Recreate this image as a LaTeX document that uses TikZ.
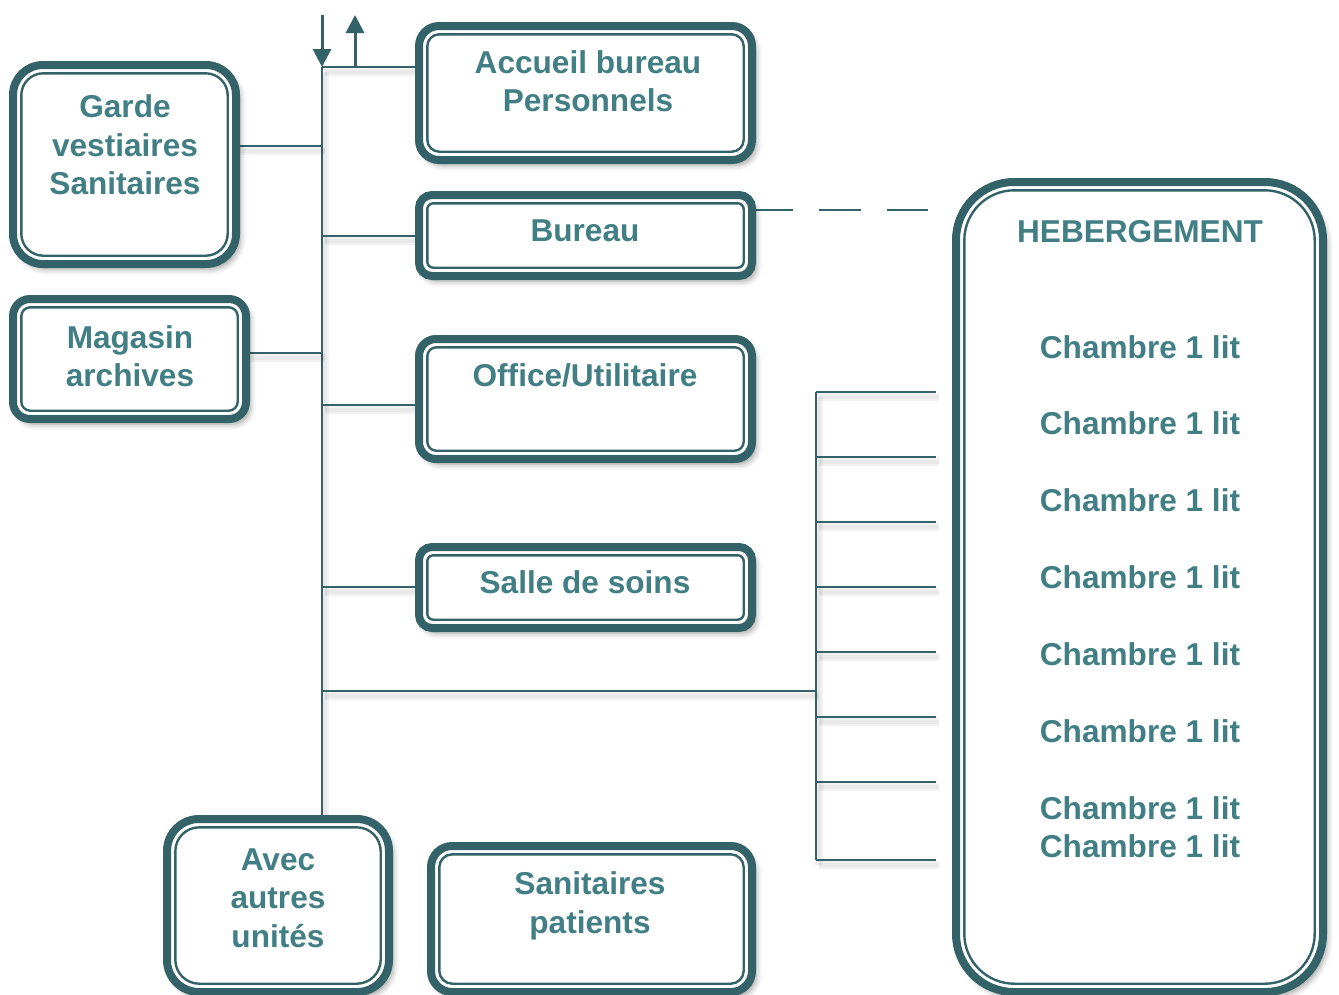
\documentclass[tikz,border=0pt]{standalone}
\usepackage{fontspec}
\setmainfont{Liberation Sans}
\usetikzlibrary{arrows.meta,shadows.blur,backgrounds}

\definecolor{tealdark}{RGB}{51,99,104}
\definecolor{tealtext}{RGB}{66,127,133}

\tikzset{
  room/.style={draw=tealdark, fill=white, line width=8pt, inner sep=0pt,
    outer sep=0pt,
    blur shadow={shadow xshift=4pt, shadow yshift=-5pt,
                 shadow blur radius=6pt, shadow opacity=40}},
  innerline/.style={draw=tealdark, line width=2.4pt},
  lbl/.style={font=\bfseries\fontsize{31.6}{38.5}\selectfont, text=tealtext,
    align=center, inner sep=0pt},
  oneline/.style={lbl, text depth=0pt},
  conn/.style={draw=tealdark, line width=2.4pt,
    preaction={draw=black, opacity=0.05, line width=8pt,
               transform canvas={xshift=3pt, yshift=-5pt}},
    preaction={draw=black, opacity=0.04, line width=4pt,
               transform canvas={xshift=3pt, yshift=-5pt}}},
  flow/.style={draw=tealdark, line width=3pt,
    -{Triangle[length=18pt, width=18pt]}},
  dashconn/.style={draw=tealdark, line width=2.4pt,
    dash pattern=on 42pt off 26pt},
}

% \roombox{name}{x1}{y1}{x2}{y2}{outer radius}{inner radius}
% the node border runs along the middle of the thick outer stroke
\newcommand\roombox[7]{%
  \node[room, rounded corners=#6pt,
        minimum width={#4-#2-8}, minimum height={#5-#3-8}]
    (#1) at ({(#2+#4)/2},{(#3+#5)/2}) {};
  \draw[innerline, rounded corners=#7pt]
    ([shift={(8.3,8.3)}]#1.north west) rectangle
    ([shift={(-8.3,-8.3)}]#1.south east);
}

\begin{document}
\begin{tikzpicture}[x=1pt, y=-1pt]
\useasboundingbox (0,0) rectangle (1339,994);

% rooms
\roombox{garde}{9}{61}{240}{268}{30}{22}
\roombox{magasin}{9}{295}{250}{423}{17}{9}
\roombox{accueil}{415}{22}{756}{164}{20}{12}
\roombox{bureau}{415}{191}{756}{280}{13}{6}
\roombox{office}{415}{335}{756}{463}{17}{9}
\roombox{salle}{415}{543}{756}{632}{13}{6}
\roombox{avec}{163}{815}{393}{996}{32}{24}
\roombox{sanit}{427}{842}{756}{996}{21}{13}
\roombox{heberg}{952}{178}{1327}{996}{58}{50}

% labels
\node[lbl] (gardeT) at (125,145) {Garde\\vestiaires\\Sanitaires};
\node[lbl] (magasinT) at (130,356) {Magasin\\archives};
\node[lbl] (accueilT) at (588,81) {Accueil bureau\\Personnels};
\node[oneline] (bureauT) at (585,231) {Bureau};
\node[oneline] (officeT) at (585,375) {Office/Utilitaire};
\node[oneline] (salleT) at (585,582) {Salle de soins};
\node[lbl] (avecT) at (278,898) {Avec\\autres\\unités};
\node[lbl] (sanitT) at (590,906) {Sanitaires\\patients};
\node[oneline] (hebergT) at (1140,231) {HEBERGEMENT};
\foreach \i/\y in {1/347,2/423,3/500,4/577,5/654,6/731,7/808,8/846}
  \node[oneline] (ch\i) at (1140,\y) {Chambre 1 lit};

% junction points on the main corridor
\coordinate (inTop) at (322,15);
\coordinate (jTop) at (322,67);
\coordinate (outFoot) at (355,67);
\coordinate (outTip) at (355,15);
\coordinate (jGarde) at (322,146);
\coordinate (jBureau) at (322,236);
\coordinate (jMagasin) at (322,353);
\coordinate (jOffice) at (322,405);
\coordinate (jSalle) at (322,587);
\coordinate (jHeb) at (322,691);
\coordinate (busTop) at (816,392);
\coordinate (busMid) at (816,691);
\coordinate (busBot) at (816,860);
\coordinate (dashStart) at (751,210);
\coordinate (dashEnd) at (928,210);
\foreach \i/\y in {1/392,2/457,3/522,4/587,5/652,6/717,7/782,8/860}
  \coordinate (door\i) at (936,\y);

\begin{scope}[on background layer]
  % main corridor
  \draw[conn] (jTop) -- (jTop |- avec.north);
  \draw[conn] (jTop) -- (jTop -| accueil.west);
  \draw[conn] (jGarde) -- (jGarde -| garde.east);
  \draw[conn] (jMagasin) -- (jMagasin -| magasin.east);
  \draw[conn] (jBureau) -- (jBureau -| bureau.west);
  \draw[conn] (jOffice) -- (jOffice -| office.west);
  \draw[conn] (jSalle) -- (jSalle -| salle.west);
  \draw[conn] (jHeb) -- (busMid);
  % bedroom corridor
  \draw[conn] (busTop) -- (busBot);
  \foreach \i in {1,...,8}
    \draw[conn] (door\i -| busTop) -- (door\i);
  % link to accommodation
  \draw[dashconn] (dashStart) -- (dashEnd);
\end{scope}

% entrance / exit arrows
\draw[flow] (inTop) -- (jTop);
\draw[flow] (outFoot) -- (outTip);
\end{tikzpicture}
\end{document}
